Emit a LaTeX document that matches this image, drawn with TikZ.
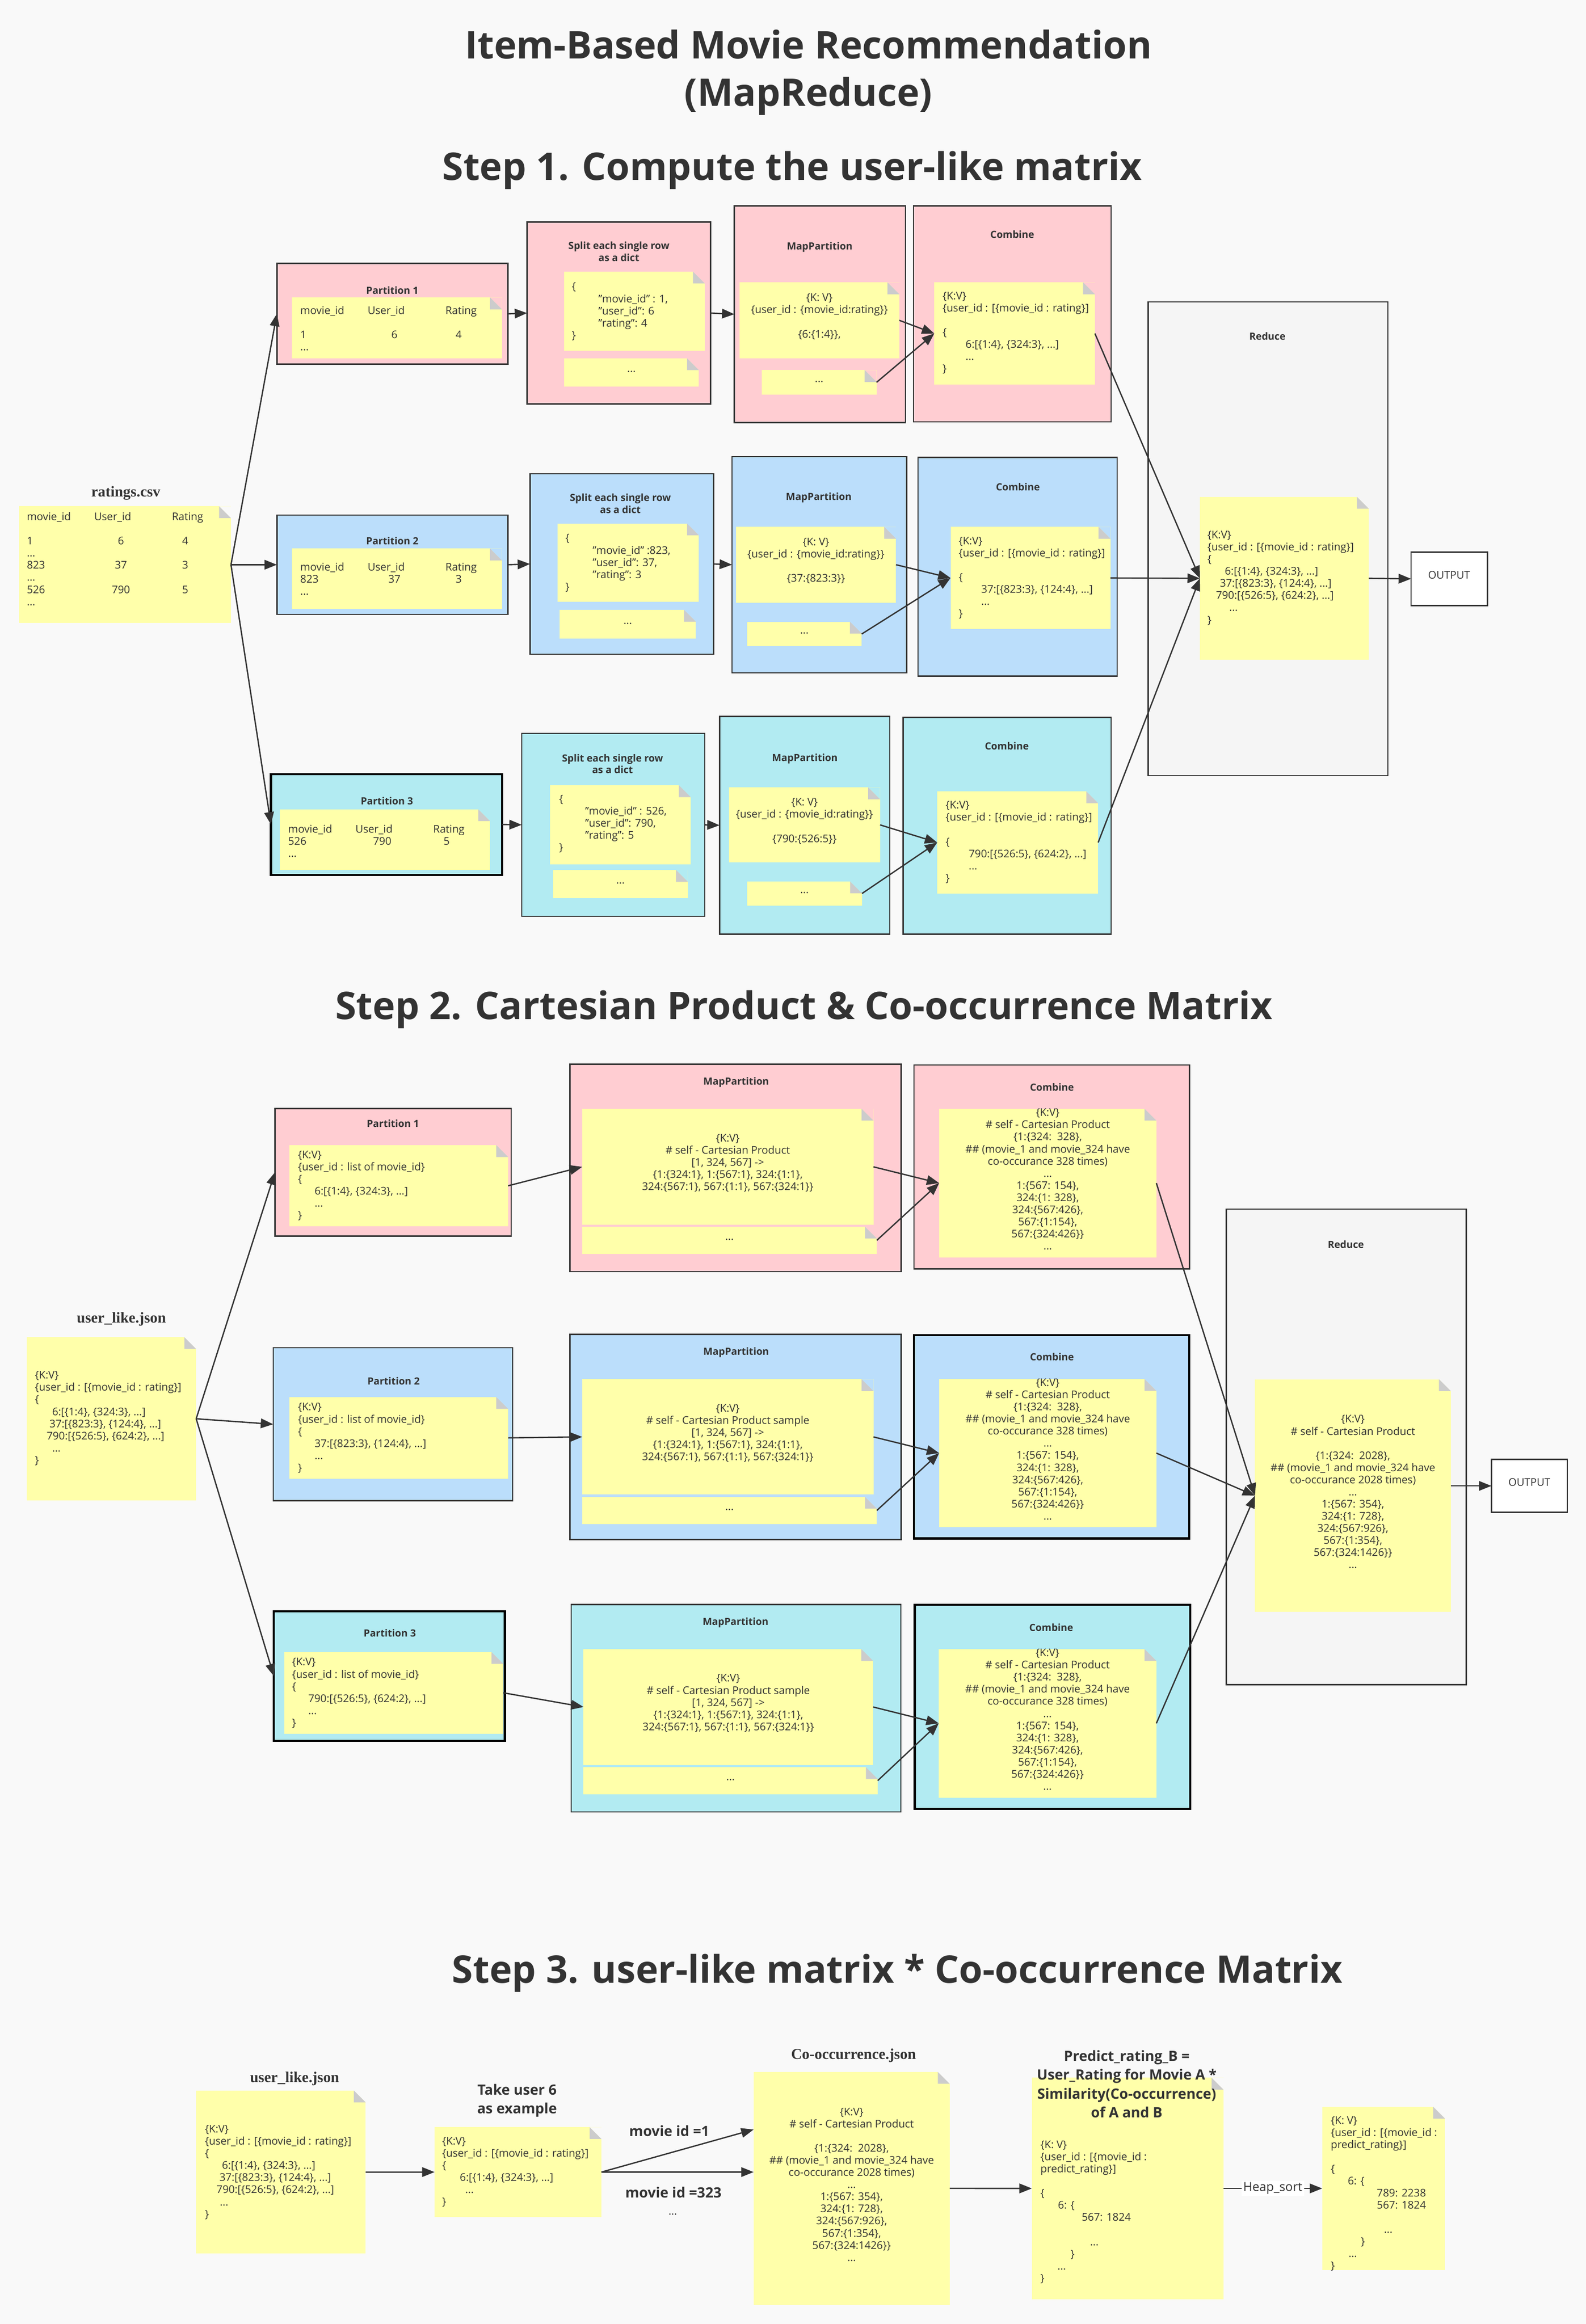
\documentclass[tikz,border=0pt]{standalone}
\usepackage{fontspec}
\setmainfont{Open Sans}
\newfontfamily\labelfont{Liberation Serif}
\usetikzlibrary{arrows.meta,fit}
\definecolor{pagebg}{HTML}{F9F9F9}
\definecolor{pinkbox}{HTML}{FFCDD2}
\definecolor{bluebox}{HTML}{BBDEFB}
\definecolor{cyanbox}{HTML}{B2EBF2}
\definecolor{graybox}{HTML}{F5F5F5}
\definecolor{noteyel}{HTML}{FFFFAA}
\definecolor{foldgray}{HTML}{CCCCCC}
\definecolor{ink}{HTML}{333333}
\newcommand{\nf}{\fontsize{6}{6.85}\selectfont}
\newcommand{\skipln}{\\[6.85pt]}
\newcommand{\ind}[1]{\hspace*{#1pt}}
\newcommand{\hrow}[3]{\makebox[38pt][l]{#1}\makebox[43.9pt][l]{#2}#3}
\newcommand{\vrow}[3]{\makebox[53.1pt][l]{#1}\makebox[0pt]{#2}\hspace{36.3pt}\makebox[0pt]{#3}}
\begin{document}
\begin{tikzpicture}[x=0.2937mm,y=-0.2937mm,
	every node/.style={text=ink},
	box/.style={draw=ink,line width=0.75pt,inner sep=0pt,outer sep=0pt},
	heavy/.style={draw=black,line width=1.2pt},
	note/.style={fill=noteyel,inner sep=0pt,outer sep=0pt,font=\nf,align=center},
	ttl/.style={font=\fontsize{5.6}{6.7}\selectfont\bfseries,align=center,inner sep=0pt},
	txt/.style={font=\nf,align=left,anchor=west,inner sep=0pt},
	head/.style={font=\fontsize{21.5}{26.7}\selectfont\bfseries,align=center,inner sep=0pt},
	file/.style={font=\labelfont\bfseries\fontsize{8.5}{10}\selectfont,inner sep=0pt},
	big/.style={font=\fontsize{8}{10.7}\selectfont\bfseries,align=center,inner sep=0pt},
	arr/.style={draw=ink,line width=0.75pt,-{Triangle[length=7pt,width=5.4pt]}},
	outbox/.style={draw=ink,line width=0.75pt,fill=white,inner sep=0pt,outer sep=0pt,font=\fontsize{6}{7}\selectfont}]
	\path[use as bounding box,fill=pagebg] (0,0) rectangle (1071.1,1570);
	\node[head] (title) at (546,49) {Item-Based Movie Recommendation\\(MapReduce)};
	\node[head] (step1) at (535,115) {Step 1. Compute the user-like matrix};
	\node[head] (step2) at (543,682) {Step 2. Cartesian Product \& Co-occurrence Matrix};
	\node[head] (step3) at (606,1333) {Step 3. user-like matrix * Co-occurrence Matrix};

	\node[box,fill=pinkbox,fit={(187,178) (343,246)}] (part1) {};
	\node[box,fill=pinkbox,fit={(356,150) (480,273)}] (split1) {};
	\node[box,fill=pinkbox,fit={(496,139) (611.5,285.5)}] (map1) {};
	\node[box,fill=pinkbox,fit={(617,139) (750.4,285)}] (comb1) {};
	\node[box,fill=bluebox,fit={(187,348) (343,415)}] (part2) {};
	\node[box,fill=bluebox,fit={(358,320) (482,442)}] (split2) {};
	\node[box,fill=bluebox,fit={(494.4,308.5) (612.4,454.5)}] (map2) {};
	\node[box,fill=bluebox,fit={(620,309) (754.5,456.8)}] (comb2) {};
	\node[box,heavy,fill=cyanbox,fit={(183,523) (339,591)}] (part3) {};
	\node[box,fill=cyanbox,fit={(352.4,495.4) (476,619)}] (split3) {};
	\node[box,fill=cyanbox,fit={(486,484) (601,631)}] (map3) {};
	\node[box,fill=cyanbox,fit={(610,484.6) (750.4,631)}] (comb3) {};
	\node[box,fill=graybox,fit={(775.5,204) (937.4,524)}] (red1) {};
	\node[outbox,fit={(953,373) (1004.5,409)}] (out1) {OUTPUT};

	\node[box,fill=pinkbox,fit={(185.7,748.9) (345.2,835)}] (xpart1) {};
	\node[box,fill=pinkbox,fit={(385,719) (608.6,859)}] (xmap1) {};
	\node[box,fill=pinkbox,fit={(617.3,719.5) (803.3,857.2)}] (xcomb1) {};
	\node[box,fill=bluebox,fit={(184.5,910.5) (346.3,1013.8)}] (xpart2) {};
	\node[box,fill=bluebox,fit={(385,901.4) (608.6,1040)}] (xmap2) {};
	\node[box,heavy,fill=bluebox,fit={(617.3,902) (803.3,1039.3)}] (xcomb2) {};
	\node[box,heavy,fill=cyanbox,fit={(185,1088.6) (341,1176.1)}] (xpart3) {};
	\node[box,fill=cyanbox,fit={(385.8,1083.9) (608.4,1224)}] (xmap3) {};
	\node[box,heavy,fill=cyanbox,fit={(617.8,1084.2) (803.9,1222)}] (xcomb3) {};
	\node[box,fill=graybox,fit={(828.2,816.8) (990.2,1138)}] (xred) {};
	\node[outbox,fit={(1007.3,985.9) (1058.6,1021.7)}] (xout) {OUTPUT};

	\node[note,fit={(13,342) (156,421)}] (ratings) {};
	\node[note,fit={(197,201) (339,242)}] (part1n) {};
	\node[note,fit={(381,183.5) (476,237)}] (split1a) {};
	\node[note,fit={(381,242) (472,261)}] (split1b) {...};
	\node[note,fit={(499.5,190.8) (607.4,242)}] (map1n) {\{K: V\}\\\{user\_id : \{movie\_id:rating\}\}\skipln\{6:\{1:4\}\},};
	\node[note,fit={(514.5,250) (592,266.6)}] (map1d) {...};
	\node[note,fit={(631,190.8) (739.5,259.8)}] (comb1n) {};
	\node[note,fit={(197,370.6) (339,411.4)}] (part2n) {};
	\node[note,fit={(376.7,353.6) (472,406.7)}] (split2a) {};
	\node[note,fit={(378,412) (470,431.4)}] (split2b) {...};
	\node[note,fit={(497,355.9) (605.2,407.1)}] (map2n) {\{K: V\}\\\{user\_id : \{movie\_id:rating\}\}\skipln\{37:\{823:3\}\}};
	\node[note,fit={(504.5,420) (582,436.6)}] (map2d) {...};
	\node[note,fit={(642,355.9) (750,425)}] (comb2n) {};
	\node[note,fit={(189,546.7) (331,587.6)}] (part3n) {};
	\node[note,fit={(371.5,530.5) (466.5,583.8)}] (split3a) {};
	\node[note,fit={(373.5,587.7) (464.6,606.8)}] (split3b) {...};
	\node[note,fit={(492.3,532) (594.4,582.5)}] (map3n) {\{K: V\}\\\{user\_id : \{movie\_id:rating\}\}\skipln\{790:\{526:5\}\}};
	\node[note,fit={(504.5,595.5) (582.2,611.7)}] (map3d) {...};
	\node[note,fit={(633,534.6) (741.7,603.7)}] (comb3n) {};
	\node[note,fit={(810.4,335.7) (924.5,445.7)}] (red1n) {};

	\node[note,fit={(18,903.3) (132.5,1013.6)}] (ulike) {};
	\node[note,fit={(195.5,773.6) (343.2,828.5)}] (xpart1n) {};
	\node[note,fit={(393.2,749) (589.9,827.5)}] (xmap1n) {\{K:V\}\\\# self - Cartesian Product\\{}[1, 324, 567] ->\\\{1:\{324:1\}, 1:\{567:1\}, 324:\{1:1\},\\324:\{567:1\}, 567:\{1:1\}, 567:\{324:1\}\}};
	\node[note,fit={(393.2,828.7) (592.2,847.1)}] (xmap1d) {...};
	\node[note,fit={(634.3,749) (781,849.5)}] (xcomb1n) {\{K:V\}\\\# self - Cartesian Product\\\{1:\{324:\ \ 328\},\\\#\# (movie\_1 and movie\_324 have\\co-occurance 328 times)\\...\\1:\{567: 154\},\\324:\{1: 328\},\\324:\{567:426\},\\567:\{1:154\},\\567:\{324:426\}\}\\...};
	\node[note,fit={(195.5,943.8) (343.2,998.9)}] (xpart2n) {};
	\node[note,fit={(393.2,931.7) (589.9,1009.7)}] (xmap2n) {\{K:V\}\\\# self - Cartesian Product sample\\{}[1, 324, 567] ->\\\{1:\{324:1\}, 1:\{567:1\}, 324:\{1:1\},\\324:\{567:1\}, 567:\{1:1\}, 567:\{324:1\}\}};
	\node[note,fit={(393.2,1011.2) (592.2,1029.6)}] (xmap2d) {...};
	\node[note,fit={(634.3,931.6) (781,1031.7)}] (xcomb2n) {\{K:V\}\\\# self - Cartesian Product\\\{1:\{324:\ \ 328\},\\\#\# (movie\_1 and movie\_324 have\\co-occurance 328 times)\\...\\1:\{567: 154\},\\324:\{1: 328\},\\324:\{567:426\},\\567:\{1:154\},\\567:\{324:426\}\}\\...};
	\node[note,fit={(191.9,1116) (339.9,1171.1)}] (xpart3n) {};
	\node[note,fit={(394.1,1114) (589.7,1192.3)}] (xmap3n) {\{K:V\}\\\# self - Cartesian Product sample\\{}[1, 324, 567] ->\\\{1:\{324:1\}, 1:\{567:1\}, 324:\{1:1\},\\324:\{567:1\}, 567:\{1:1\}, 567:\{324:1\}\}};
	\node[note,fit={(394,1193.8) (592.8,1212)}] (xmap3d) {...};
	\node[note,fit={(634,1114) (781,1214.4)}] (xcomb3n) {\{K:V\}\\\# self - Cartesian Product\\\{1:\{324:\ \ 328\},\\\#\# (movie\_1 and movie\_324 have\\co-occurance 328 times)\\...\\1:\{567: 154\},\\324:\{1: 328\},\\324:\{567:426\},\\567:\{1:154\},\\567:\{324:426\}\}\\...};
	\node[note,fit={(847.6,931.8) (979.9,1089)}] (xredn) {\{K:V\}\\\# self - Cartesian Product\skipln\{1:\{324:\ \ 2028\},\\\#\# (movie\_1 and movie\_324 have\\co-occurance 2028 times)\\...\\1:\{567: 354\},\\324:\{1: 728\},\\324:\{567:926\},\\567:\{1:354\},\\567:\{324:1426\}\}\\...};

	\node[note,fit={(132.4,1412.3) (247,1522.4)}] (ul3) {};
	\node[note,fit={(293.5,1437) (406.2,1497.7)}] (take) {};
	\node[note,fit={(509,1399.7) (641.4,1557)}] (cooc) {\{K:V\}\\\# self - Cartesian Product\skipln\{1:\{324:\ \ 2028\},\\\#\# (movie\_1 and movie\_324 have\\co-occurance 2028 times)\\...\\1:\{567: 354\},\\324:\{1: 728\},\\324:\{567:926\},\\567:\{1:354\},\\567:\{324:1426\}\}\\...};
	\node[note,fit={(696.9,1403.6) (826.3,1553.2)}] (pred) {};
	\node[note,fit={(893,1423.3) (976,1533.5)}] (final) {};

	\foreach \nn/\cc in {ratings/pagebg,part1n/pinkbox,split1a/pinkbox,split1b/pinkbox,map1n/pinkbox,map1d/pinkbox,comb1n/pinkbox,part2n/bluebox,split2a/bluebox,split2b/bluebox,map2n/bluebox,map2d/bluebox,comb2n/bluebox,part3n/cyanbox,split3a/cyanbox,split3b/cyanbox,map3n/cyanbox,map3d/cyanbox,comb3n/cyanbox,red1n/graybox,ulike/pagebg,xpart1n/pinkbox,xmap1n/pinkbox,xmap1d/pinkbox,xcomb1n/pinkbox,xpart2n/bluebox,xmap2n/bluebox,xmap2d/bluebox,xcomb2n/bluebox,xpart3n/cyanbox,xmap3n/cyanbox,xmap3d/cyanbox,xcomb3n/cyanbox,xredn/graybox,ul3/pagebg,take/pagebg,cooc/pagebg,pred/pagebg,final/pagebg} {
		\fill[\cc] (\nn.north east) -- ++(-8,0) -- ++(8,8) -- cycle;
		\fill[foldgray] (\nn.north east) ++(-8,0) -- ++(0,8) -- ++(8,0) -- cycle;
	}

	\node[ttl] (part1t) at (265,196) {Partition 1};
	\node[ttl] (split1t) at (418,170) {Split each single row\\as a dict};
	\node[ttl] (map1t) at (553.6,166.8) {MapPartition};
	\node[ttl] (comb1t) at (683.7,158.3) {Combine};
	\node[ttl] (part2t) at (265,365.3) {Partition 2};
	\node[ttl] (split2t) at (419,340.2) {Split each single row\\as a dict};
	\node[ttl] (map2t) at (553,336.3) {MapPartition};
	\node[ttl] (comb2t) at (687.5,329) {Combine};
	\node[ttl] (part3t) at (261.3,541) {Partition 3};
	\node[ttl] (split3t) at (413.7,516) {Split each single row\\as a dict};
	\node[ttl] (map3t) at (543.6,512.6) {MapPartition};
	\node[ttl] (comb3t) at (680,504) {Combine};
	\node[ttl] (red1t) at (856,227) {Reduce};
	\node[ttl] (xpart1t) at (265.4,759) {Partition 1};
	\node[ttl] (xmap1t) at (497.2,731) {MapPartition};
	\node[ttl] (xcomb1t) at (710.5,734.3) {Combine};
	\node[ttl] (xpart2t) at (265.8,933) {Partition 2};
	\node[ttl] (xmap2t) at (497.2,913.5) {MapPartition};
	\node[ttl] (xcomb2t) at (710.5,916.6) {Combine};
	\node[ttl] (xpart3t) at (263.3,1103.3) {Partition 3};
	\node[ttl] (xmap3t) at (496.8,1096.1) {MapPartition};
	\node[ttl] (xcomb3t) at (710,1099.5) {Combine};
	\node[ttl] (xredt) at (909,840.7) {Reduce};

	\node[file] (ratingslbl) at (85,333) {ratings.csv};
	\node[file] (ulikelbl) at (82,891) {user\_like.json};
	\node[file] (ul3lbl) at (199,1404.3) {user\_like.json};
	\node[file] (cooclbl) at (576.5,1388.7) {Co-occurrence.json};

	\node[txt] (ratingstx) at (17.9,377.6) {\hrow{movie\_id}{User\_id}{Rating}\skipln\vrow{1}{6}{4}\\...\\\vrow{823}{37}{3}\\...\\\vrow{526}{790}{5}\\...};
	\node[txt] (part1tx) at (202.6,222) {\hrow{movie\_id}{User\_id}{Rating}\skipln\vrow{1}{6}{4}\\...};
	\node[txt] (part2tx) at (202.6,391.2) {\hrow{movie\_id}{User\_id}{Rating}\\\vrow{823}{37}{3}\\...};
	\node[txt] (part3tx) at (194.4,568) {\hrow{movie\_id}{User\_id}{Rating}\\\vrow{526}{790}{5}\\...};
	\node[txt] (split1tx) at (386,210.5) {\{\\\ind{15}"movie\_id" : 1,\\\ind{15}"user\_id": 6\\\ind{15}"rating": 4\\\}};
	\node[txt] (split2tx) at (381.7,380.4) {\{\\\ind{15.3}"movie\_id" :823,\\\ind{15.3}"user\_id": 37,\\\ind{15.3}"rating": 3\\\}};
	\node[txt] (split3tx) at (377.4,556.5) {\{\\\ind{14.7}"movie\_id" : 526,\\\ind{14.7}"user\_id": 790,\\\ind{14.7}"rating": 5\\\}};
	\node[txt] (comb1tx) at (636.4,225) {\{K:V\}\\\{user\_id : [\{movie\_id : rating\}]\skipln\{\\\ind{13}6:[\{1:4\}, \{324:3\}, ...]\\\ind{13}...\\\}};
	\node[txt] (comb2tx) at (647.3,390.5) {\{K:V\}\\\{user\_id : [\{movie\_id : rating\}]\skipln\{\\\ind{12.7}37:[\{823:3\}, \{124:4\}, ...]\\\ind{12.7}...\\\}};
	\node[txt] (comb3tx) at (638.5,569) {\{K:V\}\\\{user\_id : [\{movie\_id : rating\}]\skipln\{\\\ind{13}790:[\{526:5\}, \{624:2\}, ...]\\\ind{13}...\\\}};
	\node[txt] (red1tx) at (815.3,390.5) {\{K:V\}\\\{user\_id : [\{movie\_id : rating\}]\\\{\\\ind{9.8}6:[\{1:4\}, \{324:3\}, ...]\\\ind{7}37:[\{823:3\}, \{124:4\}, ...]\\\ind{4.8}790:[\{526:5\}, \{624:2\}, ...]\\\ind{12.3}...\\\}};
	\node[txt] (uliketx) at (23.4,958.2) {\{K:V\}\\\{user\_id : [\{movie\_id : rating\}]\\\{\\\ind{9.7}6:[\{1:4\}, \{324:3\}, ...]\\\ind{8.2}37:[\{823:3\}, \{124:4\}, ...]\\\ind{6.6}790:[\{526:5\}, \{624:2\}, ...]\\\ind{9.7}...\\\}};
	\node[txt] (xpart1tx) at (201,801) {\{K:V\}\\\{user\_id : list of movie\_id\}\\\{\\\ind{9.4}6:[\{1:4\}, \{324:3\}, ...]\\\ind{9.4}...\\\}};
	\node[txt] (xpart2tx) at (201,971.5) {\{K:V\}\\\{user\_id : list of movie\_id\}\\\{\\\ind{9.4}37:[\{823:3\}, \{124:4\}, ...]\\\ind{9.4}...\\\}};
	\node[txt] (xpart3tx) at (197,1143.8) {\{K:V\}\\\{user\_id : list of movie\_id\}\\\{\\\ind{9.2}790:[\{526:5\}, \{624:2\}, ...]\\\ind{9.2}...\\\}};
	\node[txt] (ul3tx) at (138.2,1467.5) {\{K:V\}\\\{user\_id : [\{movie\_id : rating\}]\\\{\\\ind{9.6}6:[\{1:4\}, \{324:3\}, ...]\\\ind{8.2}37:[\{823:3\}, \{124:4\}, ...]\\\ind{6.5}790:[\{526:5\}, \{624:2\}, ...]\\\ind{8.4}...\\\}};
	\node[txt] (taketx) at (298.4,1467.3) {\{K:V\}\\\{user\_id : [\{movie\_id : rating\}]\\\{\\\ind{10}6:[\{1:4\}, \{324:3\}, ...]\\\ind{13}...\\\}};
	\node[txt] (predtx) at (702.5,1494.4) {\{K: V\}\\\{user\_id : [\{movie\_id :\\predict\_rating\}]\skipln\{\\\ind{9.9}6: \{\\\ind{23.3}567: 1824\skipln\ind{28}...\\\ind{17}\}\\\ind{9.6}...\\\}};
	\node[txt] (finaltx) at (898.6,1482) {\{K: V\}\\\{user\_id : [\{movie\_id :\\predict\_rating\}]\skipln\{\\\ind{9.6}6: \{\\\ind{26}789: 2238\\\ind{26}567: 1824\skipln\ind{30}...\\\ind{17}\}\\\ind{10}...\\\}};

	\node[big] (take6) at (349.2,1419) {Take user 6\\as example};
	\node[big] (mid1) at (452,1439.5) {movie id =1};
	\node[big] (mid323) at (454.8,1481.2) {movie id =323};
	\node[font=\nf,inner sep=0pt] (middots) at (454.4,1496) {...};
	\node[big] (predt) at (761,1407.9) {Predict\_rating\_B =\\User\_Rating for Movie A *\\Similarity(Co-occurrence)\\of A and B};
	\coordinate (id1) at (509,1438.6);

	\draw[arr] (ratings.east) -- (part1.west);
	\draw[arr] (ratings.east) -- (part2.west);
	\draw[arr] (ratings.east) -- (part3.west);
	\draw[arr] (part1.east) -- (split1.west);
	\draw[arr] (part2.east) -- (split2.west);
	\draw[arr] (part3.east) -- (split3.west);
	\draw[arr] (split1.east) -- (map1.west);
	\draw[arr] (split2.east) -- (map2.west);
	\draw[arr] (split3.east) -- (map3.west);
	\draw[arr] (map1n.east) -- (comb1n.west);
	\draw[arr] (map1d.east) -- (comb1n.west);
	\draw[arr] (map2n.east) -- (comb2n.west);
	\draw[arr] (map2d.east) -- (comb2n.west);
	\draw[arr] (map3n.east) -- (comb3n.west);
	\draw[arr] (map3d.east) -- (comb3n.west);
	\draw[arr] (comb1n.east) -- (red1n.west);
	\draw[arr] (comb2n.east) -- (red1n.west);
	\draw[arr] (comb3n.east) -- (red1n.west);
	\draw[arr] (red1n.east) -- (out1.west);

	\draw[arr] (ulike.east) -- (xpart1.west);
	\draw[arr] (ulike.east) -- (xpart2.west);
	\draw[arr] (ulike.east) -- (xpart3.west);
	\draw[arr] (xpart1n.east) -- (xmap1n.west);
	\draw[arr] (xpart2n.east) -- (xmap2n.west);
	\draw[arr] (xpart3n.east) -- (xmap3n.west);
	\draw[arr] (xmap1n.east) -- (xcomb1n.west);
	\draw[arr] (xmap1d.east) -- (xcomb1n.west);
	\draw[arr] (xmap2n.east) -- (xcomb2n.west);
	\draw[arr] (xmap2d.east) -- (xcomb2n.west);
	\draw[arr] (xmap3n.east) -- (xcomb3n.west);
	\draw[arr] (xmap3d.east) -- (xcomb3n.west);
	\draw[arr] (xcomb1n.east) -- (xredn.west);
	\draw[arr] (xcomb2n.east) -- (xredn.west);
	\draw[arr] (xcomb3n.east) -- (xredn.west);
	\draw[arr] (xredn.east |- xout.west) -- (xout.west);

	\draw[arr] (ul3.east) -- (take.west);
	\draw[arr] (take.east) -- (id1);
	\draw[arr] (take.east) -- (take.east -| cooc.west);
	\draw[arr] (cooc.east) -- (pred.west);
	\draw[arr] (pred.east) -- node[fill=white,inner sep=1pt,font=\fontsize{7}{8}\selectfont] (heap) {Heap\_sort} (final.west);
\end{tikzpicture}
\end{document}
